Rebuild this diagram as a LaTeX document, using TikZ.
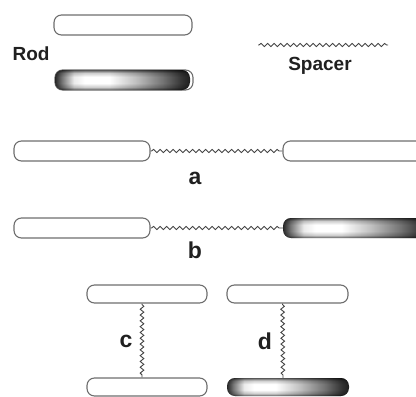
\documentclass[tikz,border=0pt]{standalone}
\usepackage{fontspec}
\setmainfont{Liberation Sans}
\usetikzlibrary{decorations.pathmorphing}
\definecolor{rodline}{HTML}{6E6E6E}
\definecolor{springcol}{HTML}{444444}
\definecolor{txt}{HTML}{202020}
\pgfdeclarehorizontalshading{rodh}{100bp}{%
  color(0bp)=(black!85); color(25bp)=(black!85); color(27.5bp)=(black!55);
  color(32bp)=(black!8); color(36bp)=(white); color(45bp)=(white);
  color(55bp)=(black!25); color(65bp)=(black!55); color(72bp)=(black!80);
  color(75bp)=(black!88); color(100bp)=(black!88)}
\pgfdeclareverticalshading{rodv}{100bp}{%
  color(0bp)=(black!65); color(25bp)=(black!65); color(32bp)=(black!20);
  color(42bp)=(white); color(58bp)=(white); color(68bp)=(black!20);
  color(75bp)=(black!65); color(100bp)=(black!65)}
\tikzset{
  rod/.style={draw=rodline, line width=1.1pt, rounded corners=7.5pt, fill=white,
    inner sep=0pt, minimum height=20pt},
  shadedrod/.style={rounded corners=8pt, inner sep=0pt, minimum height=20pt,
    path picture={
      \shade[shading=rodh] (path picture bounding box.south west) rectangle (path picture bounding box.north east);
      \begin{scope}[blend mode=multiply]
        \shade[shading=rodv] (path picture bounding box.south west) rectangle (path picture bounding box.north east);
      \end{scope}}},
  spring/.style={draw=springcol, line width=0.9pt,
    decorate, decoration={snake, segment length=6.5pt, amplitude=1.6pt, pre length=1pt, post length=1pt}},
  vspring/.style={spring, decoration={snake, segment length=5.8pt, amplitude=1.8pt, pre length=1pt, post length=1pt}},
  lbl/.style={text=txt, font=\bfseries\fontsize{19}{21}\selectfont, inner sep=0pt},
  letter/.style={text=txt, font=\bfseries\fontsize{23}{25}\selectfont, inner sep=0pt}
}
\begin{document}
\begin{tikzpicture}[x=1pt, y=-1pt]
\useasboundingbox (0,0) rectangle (416,397);
% legend
\node[rod, minimum width=138pt] (r0) at (123,25) {};
\node[rod, minimum width=138pt] (r1o) at (124,80) {};
\node[shadedrod, minimum width=135pt] (r1) at (122.5,80) {};
\node[lbl] (rodlbl) at (31,54) {Rod};
\coordinate (s0) at (258,45);
\coordinate (s1) at (388,45);
\draw[spring] (s0) -- (s1);
\node[lbl] (spacerlbl) at (320,66) {Spacer};
% a
\node[rod, minimum width=136pt] (a1) at (82,151) {};
\node[rod, minimum width=147pt] (a2) at (356.5,151) {};
\draw[spring] (a1.east) -- (a2.west);
\node[letter] (la) at (195,178) {a};
% b
\node[rod, minimum width=136pt] (b1) at (82,228) {};
\node[shadedrod, minimum width=147pt] (b2) at (356.5,228) {};
\draw[spring] (b1.east) -- (b2.west);
\node[letter] (lb) at (195,250) {b};
% c
\node[rod, minimum width=120pt, minimum height=18pt] (c1) at (147,294) {};
\node[rod, minimum width=120pt, minimum height=18pt] (c2) at (147,387) {};
\draw[vspring] ([xshift=-5pt]c1.south) -- ([xshift=-5pt]c2.north);
\node[letter] (lc) at (126,341) {c};
% d
\node[rod, minimum width=121pt, minimum height=18pt] (d1) at (287.5,294) {};
\node[shadedrod, minimum width=122pt, minimum height=18pt] (d2) at (288,387) {};
\draw[vspring] ([xshift=-5pt]d1.south) -- ([xshift=-5pt]d2.north);
\node[letter] (ld) at (265,341) {d};
\end{tikzpicture}
\end{document}
